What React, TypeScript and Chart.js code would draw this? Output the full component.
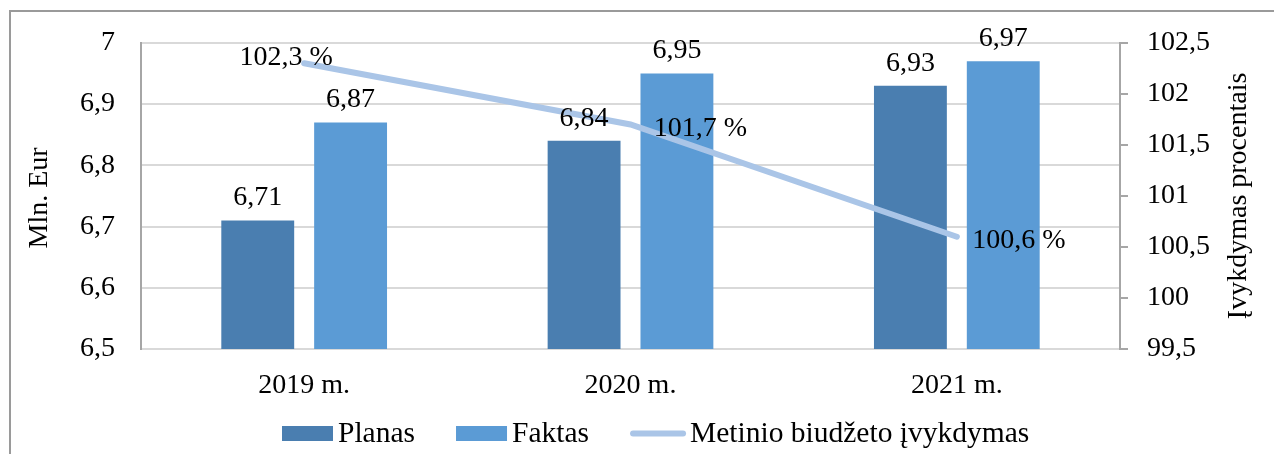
import React, { useEffect, useRef } from "react";
import { Chart, registerables } from "chart.js";

Chart.register(...registerables);

// ---- data ----
const categories = ["2019 m.", "2020 m.", "2021 m."];
const planas = [6.71, 6.84, 6.93];
const faktas = [6.87, 6.95, 6.97];
const ivykdymas = [102.3, 101.7, 100.6];
const seriesNames = ["Planas", "Faktas", "Metinio biudžeto įvykdymas"];
const axisTitles = ["Mln. Eur", "Įvykdymas procentais"];
const leftRange = [6.5, 7, 0.1];
const rightRange = [99.5, 102.5, 0.5];

// ---- styles ----
const FONT = '"Liberation Serif", "Times New Roman", serif';
const FS = 28;
const LEGEND_FS = 29.5;
const colors = ["#4A7EB0", "#5B9BD5", "#AAC5E7"];
const lineLabelOffsets = [
  [-18, 2],
  [70, 12],
  [62, 11],
];

const fmt = (v: number) => String(Number(v.toFixed(2))).replace(".", ",");
const pct = (v: number) => v.toFixed(1).replace(".", ",") + " %";

const decor = {
  id: "decor",
  beforeDraw(chart: any) {
    const ctx = chart.ctx;
    ctx.save();
    ctx.fillStyle = "#ffffff";
    ctx.fillRect(0, 0, chart.width, chart.height);
    ctx.fillStyle = "#9a9a9a";
    ctx.fillRect(9, 10, 2, chart.height - 10);
    ctx.fillRect(9, 10, chart.width - 9, 2);
    ctx.restore();
  },
  afterDatasetsDraw(chart: any) {
    const ctx = chart.ctx;
    const area = chart.chartArea;
    ctx.save();
    ctx.font = `${FS}px ${FONT}`;
    ctx.fillStyle = "#000";
    ctx.textAlign = "center";
    ctx.textBaseline = "alphabetic";
    [0, 1].forEach((di) => {
      const meta = chart.getDatasetMeta(di);
      meta.data.forEach((el: any, i: number) => {
        const v = chart.data.datasets[di].data[i] as number;
        ctx.fillText(fmt(v), el.x, el.y - 15);
      });
    });
    const lm = chart.getDatasetMeta(2);
    lm.data.forEach((pt: any, i: number) => {
      const v = chart.data.datasets[2].data[i] as number;
      const [dx, dy] = lineLabelOffsets[i];
      ctx.fillText(pct(v), pt.x + dx, pt.y + dy);
    });

    // axis titles (both read bottom-to-top)
    const cy = (area.top + area.bottom) / 2;
    ctx.textBaseline = "middle";
    ctx.save();
    ctx.translate(area.left - 101, cy + 2);
    ctx.rotate(-Math.PI / 2);
    ctx.fillText(axisTitles[0], 0, 0);
    ctx.restore();
    ctx.save();
    ctx.translate(area.right + 119, cy);
    ctx.rotate(-Math.PI / 2);
    ctx.fillText(axisTitles[1], 0, 0);
    ctx.restore();

    // legend
    ctx.font = `${LEGEND_FS}px ${FONT}`;
    ctx.textAlign = "left";
    ctx.textBaseline = "alphabetic";
    const boxWs = [51, 51, 56];
    const boxH = 15;
    const gapTexts = [5, 5, 4];
    const gapItem = 41;
    const widths = seriesNames.map((n) => ctx.measureText(n).width);
    let x = 282;
    const boxTop = 426;
    const baseline = 442;
    seriesNames.forEach((name, i) => {
      const boxW = boxWs[i];
      if (i < 2) {
        ctx.fillStyle = colors[i];
        ctx.fillRect(x, boxTop, boxW, boxH);
      } else {
        ctx.strokeStyle = colors[2];
        ctx.lineWidth = 6;
        ctx.lineCap = "round";
        ctx.beginPath();
        ctx.moveTo(x + 3, boxTop + boxH / 2);
        ctx.lineTo(x + boxW - 3, boxTop + boxH / 2);
        ctx.stroke();
      }
      ctx.fillStyle = "#000";
      ctx.fillText(name, x + boxW + gapTexts[i], baseline);
      x += boxW + gapTexts[i] + widths[i] + gapItem;
    });
    ctx.restore();
  },
};

export default function App() {
  const ref = useRef<HTMLCanvasElement | null>(null);

  useEffect(() => {
    document.body.style.margin = "0";
    const canvas = ref.current;
    if (!canvas) return;
    const chart = new Chart(canvas, {
      type: "bar",
      data: {
        labels: categories,
        datasets: [
          {
            type: "bar",
            label: seriesNames[0],
            data: planas,
            backgroundColor: colors[0],
            yAxisID: "y",
            order: 1,
            categoryPercentage: 0.569,
            barPercentage: 0.785,
          },
          {
            type: "bar",
            label: seriesNames[1],
            data: faktas,
            backgroundColor: colors[1],
            yAxisID: "y",
            order: 1,
            categoryPercentage: 0.569,
            barPercentage: 0.785,
          },
          {
            type: "line",
            label: seriesNames[2],
            data: ivykdymas,
            borderColor: colors[2],
            backgroundColor: colors[2],
            borderWidth: 6,
            borderCapStyle: "round",
            pointRadius: 0,
            tension: 0,
            yAxisID: "y1",
            order: 0,
          },
        ] as any,
      },
      options: {
        responsive: false,
        animation: false,
        devicePixelRatio: 1,
        layout: { padding: { top: 40, left: 0, right: 0, bottom: 0 } },
        plugins: {
          legend: { display: false },
          tooltip: { enabled: false },
          title: { display: false },
        },
        scales: {
          x: {
            grid: { display: true, drawOnChartArea: false, drawTicks: false },
            border: { display: true, color: "#d9d9d9", width: 2 },
            ticks: {
              padding: 20,
              color: "#000",
              font: { family: FONT, size: FS },
            },
            afterFit: (s: any) => {
              s.height = 105;
            },
          },
          y: {
            position: "left",
            min: leftRange[0],
            max: leftRange[1],
            grid: { color: "#d9d9d9", lineWidth: 2, drawTicks: false },
            border: { display: true, color: "#a6a6a6", width: 2 },
            ticks: {
              stepSize: leftRange[2],
              padding: 26,
              color: "#000",
              font: { family: FONT, size: FS },
              callback: (v: any) => fmt(Number(v)),
            },
            afterFit: (s: any) => {
              s.width = 141;
            },
          },
          y1: {
            position: "right",
            min: rightRange[0],
            max: rightRange[1],
            grid: {
              drawOnChartArea: false,
              drawTicks: true,
              tickLength: 8,
              color: "#a6a6a6",
              lineWidth: 2,
            },
            border: { display: true, color: "#a6a6a6", width: 2 },
            ticks: {
              stepSize: rightRange[2],
              padding: 19,
              color: "#000",
              font: { family: FONT, size: FS },
              callback: (v: any) => fmt(Number(v)),
            },
            afterFit: (s: any) => {
              s.width = 154;
            },
          },
        },
      } as any,
      plugins: [decor],
    });
    return () => chart.destroy();
  }, []);

  return (
    <canvas
      ref={ref}
      width={1274}
      height={454}
      style={{ display: "block", width: 1274, height: 454 }}
    />
  );
}
